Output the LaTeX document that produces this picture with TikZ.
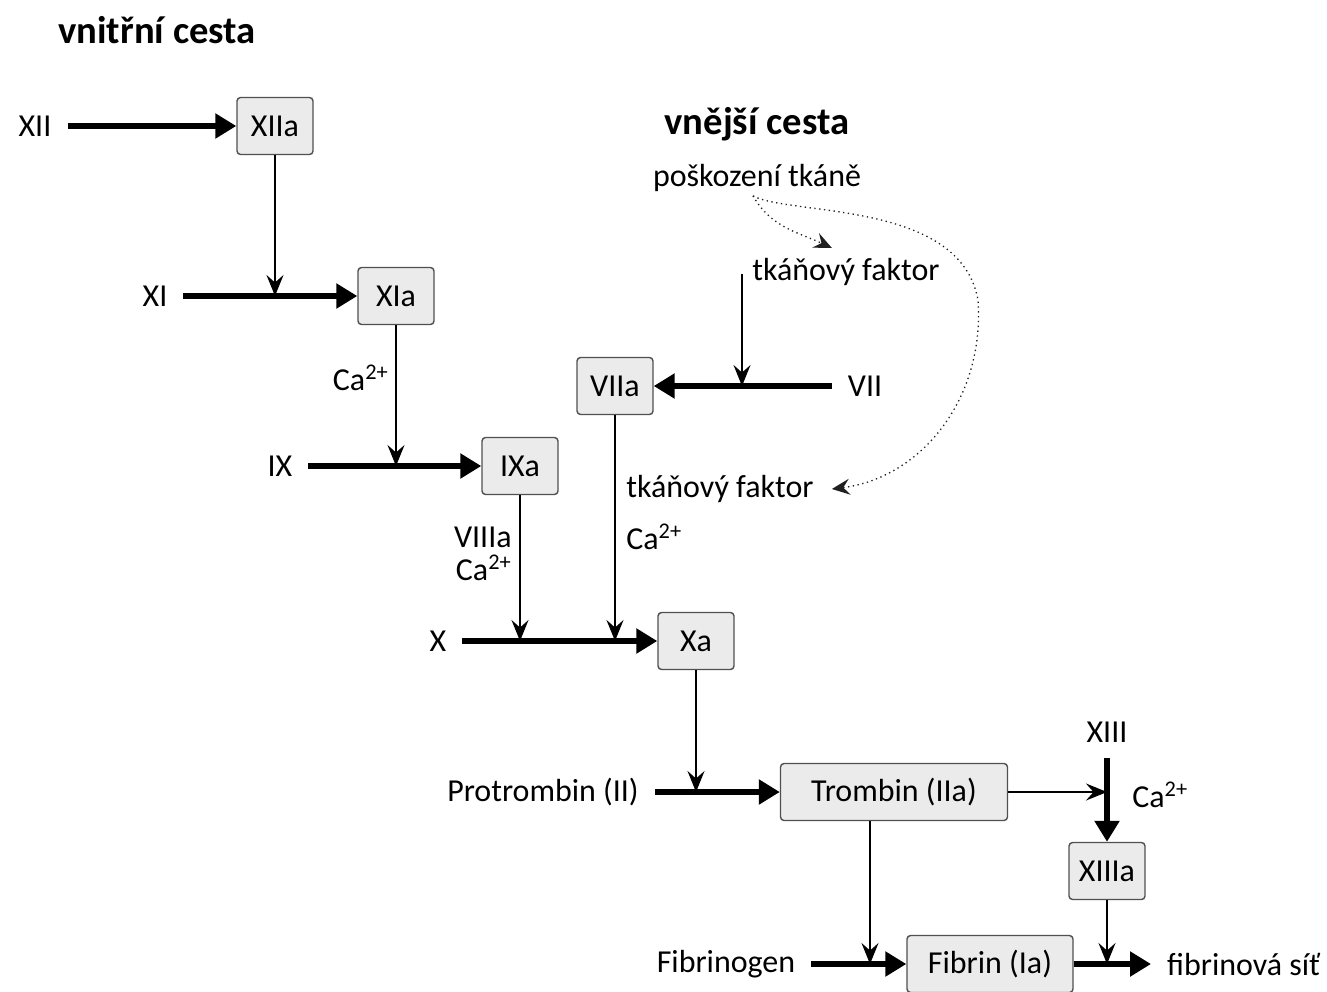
\documentclass[tikz,border=0pt]{standalone}
\usepackage{fontspec}
\setmainfont{Carlito}
\usetikzlibrary{positioning,arrows.meta,calc}
\definecolor{boxFill}{HTML}{EBEBEB}
\definecolor{boxLine}{HTML}{505050}
\definecolor{dotGray}{HTML}{202020}

\begin{document}
\begin{tikzpicture}[x=0.02cm,y=-0.02cm,
    font=\fontsize{18.2}{21}\selectfont,
    box/.style={rounded corners=2pt,draw=boxLine,line width=0.8pt,fill=boxFill,
      minimum width=1.52cm,minimum height=1.14cm,inner sep=2pt},
    lab/.style={inner sep=9pt},
    txt/.style={inner sep=0pt},
    head/.style={font=\fontsize{22}{26}\selectfont\bfseries},
    thk/.style={-{Triangle[length=0.42cm,width=0.48cm]},line width=3.1pt},
    thn/.style={-{Stealth[length=0.42cm,width=0.34cm,inset=0.15cm]},line width=0.95pt},
    dot/.style={-{Stealth[length=0.36cm,width=0.32cm,inset=0.13cm]},dotted,
      line width=0.75pt,draw=dotGray}]
    \useasboundingbox (0,0) rectangle (1327,991);
    % headings
    \node[head] (vnitrni) at (157,30) {vnitřní cesta};
    \node[head] (vnejsi) at (757,124) {vnější cesta};
    \node (poskozeni) at (757,178) {poškození tkáně};
    \node[txt,anchor=west] (tf1) at (752,272) {tkáňový faktor};
    % intrinsic pathway
    \node[lab] (xii) at (35,126) {XII};
    \node[box] (xiia) at (275,126) {XIIa};
    \node[lab] (xi) at (155,296) {XI};
    \node[box] (xia) at (396,296) {XIa};
    \node[lab] (ix) at (280,466) {IX};
    \node[box] (ixa) at (520,466) {IXa};
    \node[lab] (x) at (438,641) {X};
    \node[box] (xa) at (696,641) {Xa};
    \node[txt,anchor=east] (ca1) at (389,378) {Ca\textsuperscript{2+}};
    \node[txt,anchor=east] (viiia) at (512,537) {VIIIa};
    \node[txt,anchor=east] (ca2) at (512,568) {Ca\textsuperscript{2+}};
    \draw[thk] (xii.east) -- (xiia.west);
    \draw[thk] (xi.east) -- (xia.west);
    \draw[thk] (ix.east) -- (ixa.west);
    \draw[thk] (x.east) -- (xa.west);
    \draw[thn] (xiia.south) -- (xiia.south |- xi);
    \draw[thn] (xia.south) -- (xia.south |- ix);
    \draw[thn] (ixa.south) -- (ixa.south |- x);
    % extrinsic pathway
    \node[box] (viia) at (615,386) {VIIa};
    \node[lab] (vii) at (865,386) {VII};
    \node[txt,anchor=west] (tf2) at (626,489) {tkáňový faktor};
    \node[txt,anchor=west] (ca3) at (626,537) {Ca\textsuperscript{2+}};
    \coordinate (tfin) at (742,274);
    \draw[thk] (vii.west) -- (viia.east);
    \draw[thn] (tfin) -- (tfin |- vii);
    \draw[thn] (viia.south) -- (viia.south |- x);
    \coordinate (dstart) at ($(poskozeni.south)+(-4,-2)$);
    \draw[dot] (dstart) to[out=-60,in=155] ($(tf1.north)+(-14,-10)$);
    \draw[dot] (dstart) .. controls (790,216) and (960,200) .. (978,300)
      .. controls (985,400) and (920,478) .. ($(tf2.east)+(18,0)$);
    % common pathway
    \node[lab] (pro) at (543,792) {Protrombin (II)};
    \node[box,minimum width=4.54cm] (trombin) at (894,792) {Trombin (IIa)};
    \node[lab] (xiii) at (1107,732) {XIII};
    \node[box] (xiiia) at (1107,871) {XIIIa};
    \node[txt,anchor=west] (ca4) at (1132,795) {Ca\textsuperscript{2+}};
    \node[lab] (fibgen) at (726,964) {Fibrinogen};
    \node[box,minimum width=3.32cm] (fibrin) at (990,964) {Fibrin (Ia)};
    \node[lab,anchor=west] (sit) at (1151,964) {fibrinová síť};
    \coordinate (tdown) at ($(trombin.south)+(-24,0)$);
    \draw[thn] (xa.south) -- (xa.south |- pro);
    \draw[thk] (pro.east) -- (trombin.west);
    \draw[thn] (trombin.east) -- (trombin.east -| xiiia);
    \draw[thk] (xiii.south) -- (xiiia.north);
    \draw[thn] (tdown) -- (tdown |- fibgen);
    \draw[thk] (fibgen.east) -- (fibrin.west);
    \draw[thn] (xiiia.south) -- (xiiia.south |- fibrin);
    \draw[thk] (fibrin.east) -- (sit.west);
  \end{tikzpicture}
\end{document}
